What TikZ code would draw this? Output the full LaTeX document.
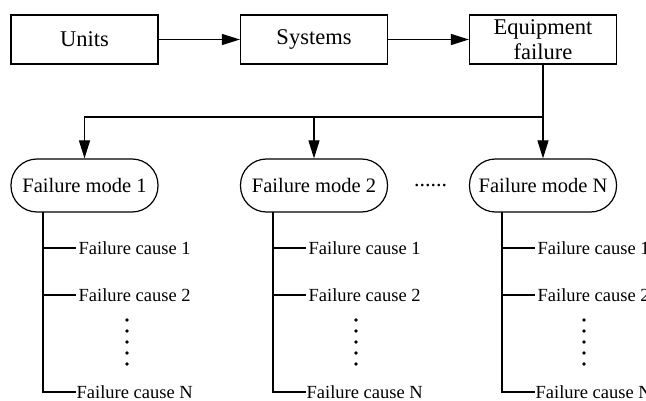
\documentclass[tikz,border=0pt]{standalone}
\usepackage{fontspec}
\setmainfont{Liberation Serif}
\usepackage{tikz}
\usetikzlibrary{positioning}
\usetikzlibrary{arrows.meta}
\tikzstyle{block} = [rectangle, minimum width=147pt, minimum height=49pt, text centered, align=center, draw=black, line width=1.2pt, font=\fontsize{22.5}{25}\selectfont]
\tikzstyle{mode} = [rectangle, rounded corners=26pt, minimum width=147pt, minimum height=53pt, text centered, draw=black, line width=1.2pt, font=\fontsize{20.5}{25}\selectfont]
\tikzstyle{cause} = [anchor=west, inner sep=0.5pt, font=\fontsize{18.5}{20}\selectfont]
\tikzstyle{arr} = [black, line width=1.2pt, -{Triangle[length=18pt,width=11pt]}]
\tikzstyle{link} = [black, line width=1.2pt]

\begin{document}
\begin{tikzpicture}[x=1pt, y=-1pt]
	\useasboundingbox (0,0) rectangle (646,401);
	\node (units) at (84.5,39.5) [block] {Units};
	\node (systems) at (314,39.5) [block] {Systems};
	\node (equipment) at (543,39.5) [block] {Equipment\\failure};
	\draw [arr] (units) -- (systems);
	\draw [arr] (systems) -- (equipment);

	\node (mode_1) at (84.5,185.5) [mode] {Failure mode 1};
	\node (mode_2) at (314,185.5) [mode] {Failure mode 2};
	\node (mode_n) at (543,185.5) [mode] {Failure mode N};
	\node (more_modes) at (430.5,187) [anchor=base, inner sep=0pt, font=\fontsize{22}{25}\selectfont] {......};

	\coordinate (split) at (543,117);
	\draw [link] (equipment) -- (split);
	\draw [arr] (split) -| (mode_1);
	\draw [arr] (split) -| (mode_2);
	\draw [arr] (split) -- (mode_n);

	% causes of mode 1
	\node (cause_1_1) at (78,248) [cause] {Failure cause 1};
	\node (cause_1_2) at (78,295) [cause] {Failure cause 2};
	\node (cause_1_n) at (76,392) [cause] {Failure cause N};
	\coordinate (trunk_1) at (43,212);
	\draw [link] (trunk_1) |- (cause_1_n.west);
	\draw [link] (cause_1_1.west -| trunk_1) -- ++(33,0);
	\draw [link] (cause_1_2.west -| trunk_1) -- ++(33,0);
	\fill (127,320) circle (1.8) (127,331) circle (1.8) (127,342) circle (1.8) (127,353) circle (1.8) (127,364) circle (1.8);

	% causes of mode 2
	\node (cause_2_1) at (308,248) [cause] {Failure cause 1};
	\node (cause_2_2) at (308,295) [cause] {Failure cause 2};
	\node (cause_2_n) at (306,392) [cause] {Failure cause N};
	\coordinate (trunk_2) at (273,212);
	\draw [link] (trunk_2) |- (cause_2_n.west);
	\draw [link] (cause_2_1.west -| trunk_2) -- ++(33,0);
	\draw [link] (cause_2_2.west -| trunk_2) -- ++(33,0);
	\fill (356,320) circle (1.8) (356,331) circle (1.8) (356,342) circle (1.8) (356,353) circle (1.8) (356,364) circle (1.8);

	% causes of mode N
	\node (cause_n_1) at (537,248) [cause] {Failure cause 1};
	\node (cause_n_2) at (537,295) [cause] {Failure cause 2};
	\node (cause_n_n) at (535,392) [cause] {Failure cause N};
	\coordinate (trunk_n) at (502,212);
	\draw [link] (trunk_n) |- (cause_n_n.west);
	\draw [link] (cause_n_1.west -| trunk_n) -- ++(33,0);
	\draw [link] (cause_n_2.west -| trunk_n) -- ++(33,0);
	\fill (584,320) circle (1.8) (584,331) circle (1.8) (584,342) circle (1.8) (584,353) circle (1.8) (584,364) circle (1.8);

\end{tikzpicture}
\end{document}
